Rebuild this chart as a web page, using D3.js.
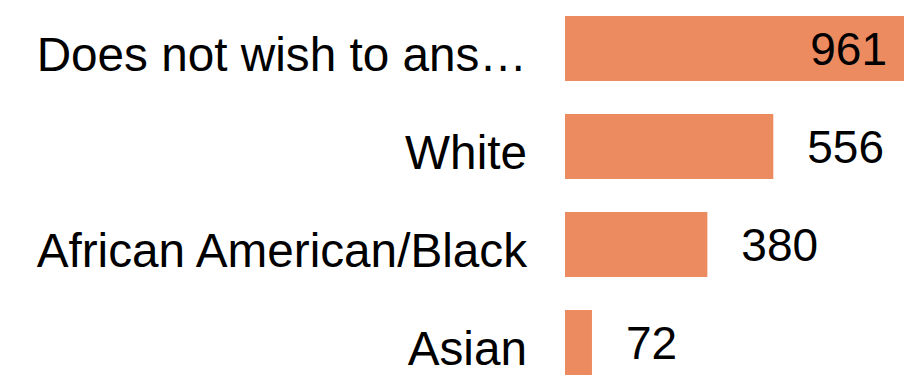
<!DOCTYPE html>
<html>
<head>
<meta charset="utf-8">
<script src="https://cdn.jsdelivr.net/npm/d3@7"></script>
<style>
  html, body { margin: 0; padding: 0; background: #fff; overflow: hidden; }
  svg { display: block; }
</style>
</head>
<body>
<script>
const categories = ["Does not wish to ans\u2026", "White", "African American/Black", "Asian"];
const values = [961, 556, 380, 72];

const W = 904, H = 380;
const svg = d3.select("body").append("svg").attr("width", W).attr("height", H);

const x = d3.scaleLinear().domain([0, 961]).range([565, 925]);
const y = d3.scaleBand().domain(categories).range([16, 375]).paddingInner(0.337).paddingOuter(0);

const font = "'Liberation Sans', Arial, sans-serif";
const data = categories.map((c, i) => ({ c, v: values[i] }));

svg.selectAll("rect.bar").data(data).enter().append("rect")
  .attr("class", "bar")
  .attr("x", x(0))
  .attr("y", d => y(d.c))
  .attr("width", d => x(d.v) - x(0))
  .attr("height", y.bandwidth())
  .attr("fill", "#EC8B60");

svg.selectAll("text.cat").data(data).enter().append("text")
  .attr("class", "cat")
  .attr("x", x(0) - 38)
  .attr("y", d => y(d.c) + y.bandwidth() / 2)
  .attr("dy", "0.47em")
  .attr("text-anchor", "end")
  .attr("font-family", font)
  .attr("font-size", 47.7)
  .attr("fill", "#000")
  .text(d => d.c);

svg.selectAll("text.val").data(data).enter().append("text")
  .attr("class", "val")
  .attr("font-family", font)
  .attr("font-size", 46)
  .attr("fill", "#000")
  .attr("y", d => y(d.c) + y.bandwidth() / 2)
  .attr("dy", "0.36em")
  .text(d => d.v)
  .each(function(d) {
    const t = d3.select(this);
    const w = this.getComputedTextLength();
    const outside = x(d.v) + 34;
    if (outside + w > W) {
      t.attr("text-anchor", "end").attr("x", Math.min(x(d.v), W) - 17);
    } else {
      t.attr("text-anchor", "start").attr("x", outside);
    }
  });
</script>
</body>
</html>
